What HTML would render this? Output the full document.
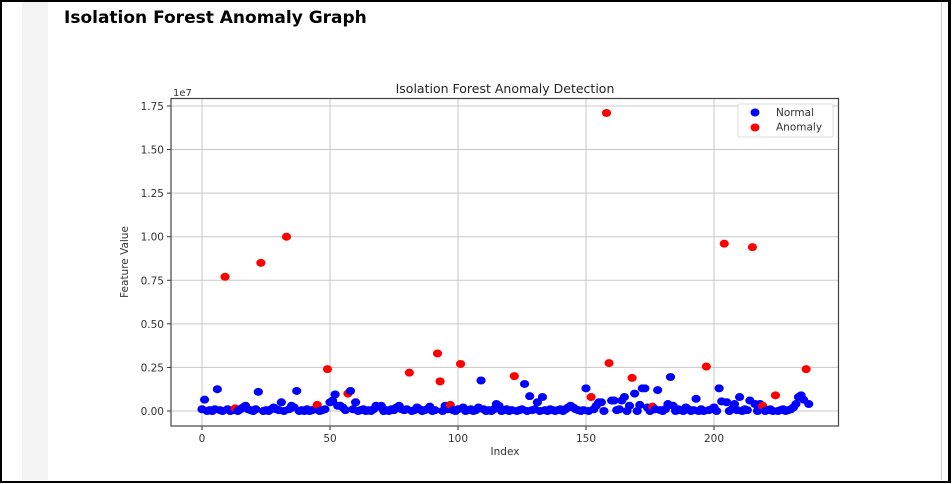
<!DOCTYPE html>
<html><head><meta charset="utf-8">
<style>
html,body{margin:0;padding:0;background:#fff;}
#wrap{position:relative;width:952px;height:484px;overflow:hidden;background:#fff;font-family:"DejaVu Sans","Liberation Sans",sans-serif;}
#frame{position:absolute;left:0;top:0;width:946px;height:479px;border:2px solid #000;border-right:3px solid #000;}
#strip{position:absolute;left:22px;top:2px;width:26px;height:478px;background:#f3f3f3;}
#rline{position:absolute;left:941px;top:2px;width:1px;height:478px;background:#ccc;}
#title{position:absolute;left:64px;top:8px;font-size:17px;font-weight:bold;color:#000;}
svg{position:absolute;left:0;top:0;}
</style></head><body>
<div id="wrap">
<div id="frame"></div>
<div id="strip"></div>
<div id="rline"></div>
<div id="title">Isolation Forest Anomaly Graph</div>
<svg id="chart" width="952" height="484"></svg>
</div>
<script>
const values=[0.01,0.065,0.0,0.005,0.0,0.01,0.125,0.005,0.0,0.77,
0.01,0.0,0.005,0.015,0.0,0.01,0.02,0.03,0.01,0.005,
0.0,0.01,0.11,0.85,0.0,0.005,0.0,0.01,0.02,0.01,
0.005,0.05,0.0,1.0,0.01,0.03,0.02,0.115,0.0,0.005,
0.0,0.01,0.0,0.005,0.01,0.035,0.0,0.005,0.01,0.24,
0.05,0.06,0.095,0.03,0.03,0.02,0.005,0.10,0.115,0.01,
0.05,0.0,0.005,0.01,0.0,0.005,0.0,0.01,0.03,0.025,
0.03,0.0,0.005,0.0,0.01,0.005,0.02,0.03,0.01,0.005,
0.01,0.22,0.0,0.005,0.02,0.01,0.0,0.005,0.01,0.025,
0.0,0.005,0.33,0.17,0.0,0.03,0.01,0.035,0.005,0.0,
0.01,0.27,0.02,0.0,0.005,0.01,0.0,0.005,0.02,0.175,
0.01,0.0,0.005,0.0,0.01,0.04,0.03,0.0,0.005,0.01,
0.0,0.005,0.20,0.0,0.005,0.01,0.155,0.0,0.085,0.005,
0.01,0.05,0.0,0.08,0.005,0.0,0.01,0.005,0.0,0.005,
0.01,0.0,0.01,0.02,0.03,0.02,0.01,0.005,0.0,0.005,
0.13,0.0,0.08,0.01,0.03,0.05,0.05,0.0,1.71,0.275,
0.06,0.06,0.005,0.01,0.06,0.08,0.0,0.03,0.19,0.10,
0.0,0.035,0.13,0.13,0.02,0.0,0.025,0.01,0.12,0.005,
0.0,0.01,0.04,0.195,0.03,0.0,0.01,0.005,0.0,0.02,
0.01,0.0,0.005,0.07,0.0,0.01,0.0,0.255,0.005,0.01,
0.02,0.0,0.13,0.055,0.96,0.05,0.0,0.01,0.04,0.005,
0.08,0.0,0.01,0.005,0.06,0.94,0.04,0.0,0.04,0.03,
0.0,0.005,0.01,0.0,0.09,0.0,0.005,0.01,0.0,0.005,
0.01,0.02,0.04,0.08,0.09,0.065,0.24,0.04];
const anomalyIdx=[9,13,23,33,45,49,57,81,92,93,97,101,122,152,158,159,168,176,197,204,215,219,224,236];
const xTicks=[0,50,100,150,200];
const yTicks=[0,0.25,0.5,0.75,1.0,1.25,1.5,1.75];
const yTickLabels=["0.00","0.25","0.50","0.75","1.00","1.25","1.50","1.75"];

const svg=document.getElementById('chart');
const NS='http://www.w3.org/2000/svg';
const L=171,R=838.5,T=98.5,B=426;
const xS=v=>202+v*2.56;
const yS=v=>411-v*174.3;
function mk(tag,attrs,parent){const e=document.createElementNS(NS,tag);for(const k in attrs)e.setAttribute(k,attrs[k]);(parent||svg).appendChild(e);return e;}

const grid=mk('g',{});


xTicks.forEach(t=>{
  const l=mk('line',{x1:xS(t),x2:xS(t),y1:T,y2:B,stroke:'#c8c8c8','stroke-width':1},grid);
  
  
  const tk=mk('line',{x1:xS(t),x2:xS(t),y1:B,y2:B+4,stroke:'#333'});
  
  
  const tx=mk('text',{x:xS(t),y:B+16,'text-anchor':'middle','font-size':10.5,fill:'#333'});
  tx.textContent=t;
  
  
});
yTicks.forEach((t,i)=>{
  const l=mk('line',{x1:L,x2:R,y1:yS(t),y2:yS(t),stroke:'#c8c8c8','stroke-width':1},grid);
  
  
  const tk=mk('line',{x1:L-4,x2:L,y1:yS(t),y2:yS(t),stroke:'#333'});
  
  
  const tx=mk('text',{x:L-7,y:yS(t)+4,'text-anchor':'end','font-size':10.5,fill:'#333'});
  tx.textContent=yTickLabels[i];
  
  
});
const pts=mk('g',{});


values.forEach((v,i)=>{
  const an=anomalyIdx.includes(i);
  const c=mk('ellipse',{cx:xS(i),cy:yS(v),rx:4.6,ry:4,fill:an?'#ff0000':'#0000ff'},pts);
  
  
});
const fr=mk('rect',{x:L,y:T,width:R-L,height:B-T,fill:'none',stroke:'#444','stroke-width':1.2});


const ct=mk('text',{x:505,y:93,'text-anchor':'middle','font-size':12.5,fill:'#222'});
ct.textContent='Isolation Forest Anomaly Detection';


const ex=mk('text',{x:173,y:96,'font-size':10,fill:'#333'});
ex.textContent='1e7';


const xl=mk('text',{x:505,y:455,'text-anchor':'middle','font-size':10.5,fill:'#333'});
xl.textContent='Index';


const yl=mk('text',{x:0,y:0,'text-anchor':'middle','font-size':10.5,fill:'#333',transform:'translate(128,262) rotate(-90)'});
yl.textContent='Feature Value';


const lg=mk('g',{});


mk('rect',{x:738,y:104,width:95,height:33,rx:2,fill:'#fff',stroke:'#ddd'},lg);
const l1=mk('ellipse',{cx:755,cy:112.5,rx:4.5,ry:4,fill:'#0000ff'},lg);


const t1=mk('text',{x:776,y:116,'font-size':10.5,fill:'#333'},lg);
t1.textContent='Normal';


const l2=mk('ellipse',{cx:755,cy:127.5,rx:4.5,ry:4,fill:'#ff0000'},lg);


const t2=mk('text',{x:776,y:130.5,'font-size':10.5,fill:'#333'},lg);
t2.textContent='Anomaly';


</script>
</body></html>
